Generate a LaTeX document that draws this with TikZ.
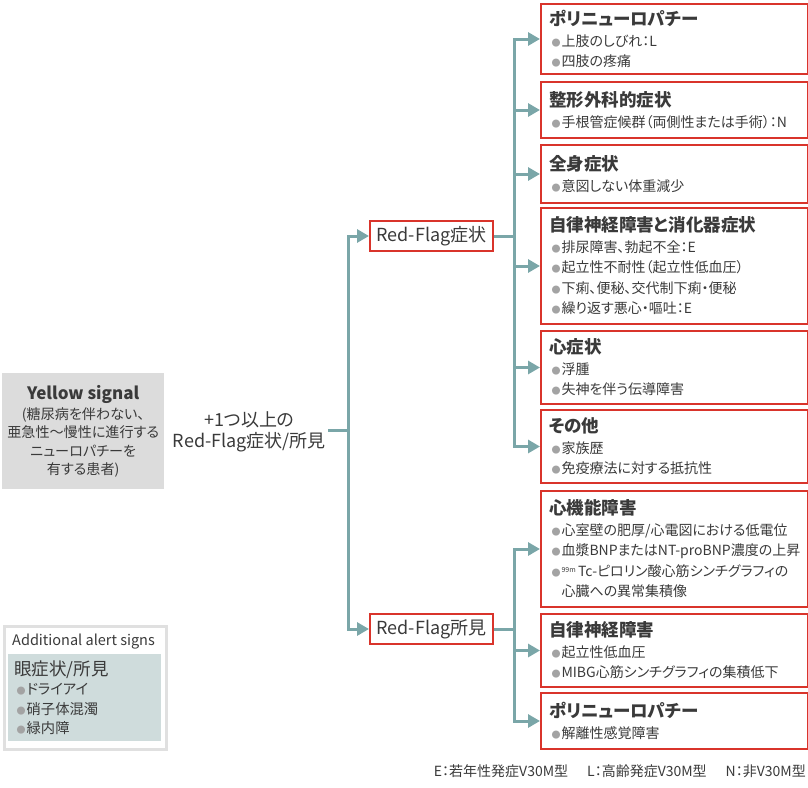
\documentclass[tikz,border=0pt]{standalone}
\usepackage{fontspec}
\setmainfont{Noto Sans CJK JP}[RawFeature=+palt]
\usetikzlibrary{arrows.meta}
\definecolor{redb}{HTML}{D9342B}
\definecolor{connc}{HTML}{7AA6A8}
\definecolor{txt}{HTML}{3A3A3A}
\definecolor{bulc}{HTML}{A3A3A3}
\definecolor{ygray}{HTML}{DCDCDC}
\definecolor{alfill}{HTML}{CFDCDC}
\definecolor{albord}{HTML}{E0E0E0}
\newcommand\bul{\hspace*{2.5pt}{\color{bulc}\fontsize{9}{9}\selectfont ●}\hspace{1pt}}
\newcommand\bitem[1]{\mbox{\bul#1}\par}
\newcommand\boxttl[1]{{\fontsize{17.5}{20.5}\selectfont\bfseries #1}\par}
\begin{document}
\begin{tikzpicture}[x=1pt,y=-1pt,
  rbox/.style={draw=redb, line width=2pt, anchor=north west, minimum width=267pt,
    text width=251pt, inner xsep=8pt, inner ysep=0pt, align=left,
    font=\fontsize{14}{20.5}\selectfont, text=txt},
  rfbox/.style={draw=redb, line width=2pt, minimum width=123pt, minimum height=30pt,
    inner sep=0pt, font=\fontsize{18}{20}\selectfont, text=txt},
  conn/.style={draw=connc, line width=3pt},
  arr/.style={conn, -{Triangle[length=12pt,width=13pt]}}]
\useasboundingbox (0,0) rectangle (808,787);

% left side
\node[fill=ygray, minimum width=162pt, minimum height=116pt, anchor=north west,
  inner sep=0pt, align=center, text=txt, font=\fontsize{14.1}{18.5}\selectfont]
  (yel) at (2,373) {{\fontsize{17}{20}\selectfont\bfseries Yellow signal}\\[1.5pt]
  (糖尿病を伴わない、\\亜急性〜慢性に進行する\\ニューロパチーを\\有する患者)};

\node[anchor=east, align=center, text=txt, inner sep=2pt,
  font=\fontsize{18}{20.5}\selectfont] (plus) at (328,432) {+1つ以上の\\Red-Flag症状/所見};

\node[rfbox] (rf1) at (431.5,236) {Red-Flag症状};
\node[rfbox] (rf2) at (431.5,629) {Red-Flag所見};

% right boxes
\node[rbox, minimum height=70pt] (b1) at (540,3) {\boxttl{ポリニューロパチー}\bitem{上肢のしびれ：L}\bitem{四肢の疼痛}};
\node[rbox, minimum height=56pt] (b2) at (540,81) {\boxttl{整形外科的症状}\bitem{手根管症候群（両側性または手術）：N}};
\node[rbox, minimum height=58pt] (b3) at (540,144) {\boxttl{全身症状}\bitem{意図しない体重減少}};
\node[rbox, minimum height=116pt] (b4) at (540,207) {\boxttl{自律神経障害と消化器症状}\bitem{排尿障害、勃起不全：E}\bitem{起立性不耐性（起立性低血圧）}\bitem{下痢、便秘、交代制下痢・便秘}\bitem{繰り返す悪心・嘔吐：E}};
\node[rbox, minimum height=73pt] (b5) at (540,330) {\boxttl{心症状}\bitem{浮腫}\bitem{失神を伴う伝導障害}};
\node[rbox, minimum height=73pt] (b6) at (540,409) {\boxttl{その他}\bitem{家族歴}\bitem{免疫療法に対する抵抗性}};
\node[rbox, minimum height=116pt] (b7) at (540,490) {\boxttl{心機能障害}\bitem{心室壁の肥厚/心電図における低電位}\bitem{血漿BNPまたはNT-proBNP濃度の上昇}\bitem{{\fontsize{7}{7}\selectfont\raisebox{4pt}{99m}}\,Tc-ピロリン酸心筋シンチグラフィの}\mbox{\hspace*{12.5pt}心臓への異常集積像}};
\node[rbox, minimum height=73pt] (b8) at (540,613) {\boxttl{自律神経障害}\bitem{起立性低血圧}\bitem{MIBG心筋シンチグラフィの集積低下}};
\node[rbox, minimum height=56pt] (b9) at (540,692) {\boxttl{ポリニューロパチー}\bitem{解離性感覚障害}};

% connectors
\coordinate (j0) at (348,430);
\coordinate (j1) at (514,236);
\coordinate (j2) at (514,629);
\draw[conn] (plus.east |- j0) -- (j0);
\draw[arr] (j0) |- (rf1.west);
\draw[arr] (j0) |- (rf2.west);
\draw[conn] (rf1.east) -- (j1);
\draw[conn] (rf2.east) -- (j2);
\foreach \b in {b1,b2,b3,b4,b5,b6} \draw[arr] (j1) |- (\b.west);
\foreach \b in {b7,b8,b9} \draw[arr] (j2) |- (\b.west);

% additional alert signs
\node[draw=albord, line width=2.5pt, anchor=north west, minimum width=162pt,
  minimum height=123pt, inner sep=0pt] (alert) at (3,625) {};
\node[anchor=west, inner sep=0pt, text=txt, font=\fontsize{14.5}{16}\selectfont]
  (altitle) at (12,642) {Additional alert signs};
\node[fill=alfill, anchor=north west, minimum width=149pt, minimum height=87pt,
  text width=141pt, inner xsep=6pt, inner ysep=0pt, align=left, text=txt,
  font=\fontsize{14.3}{19.5}\selectfont] (eye) at (8,654)
  {{\fontsize{17.5}{19.5}\selectfont 眼症状/所見}\par\bitem{ドライアイ}\bitem{硝子体混濁}\bitem{緑内障}};

% legend
\node[anchor=east, inner sep=0pt, text=txt, font=\fontsize{14}{15}\selectfont]
  (leg) at (806,771) {E：若年性発症V30M型\hspace{19pt}L：高齢発症V30M型\hspace{19pt}N：非V30M型};
\end{tikzpicture}
\end{document}
